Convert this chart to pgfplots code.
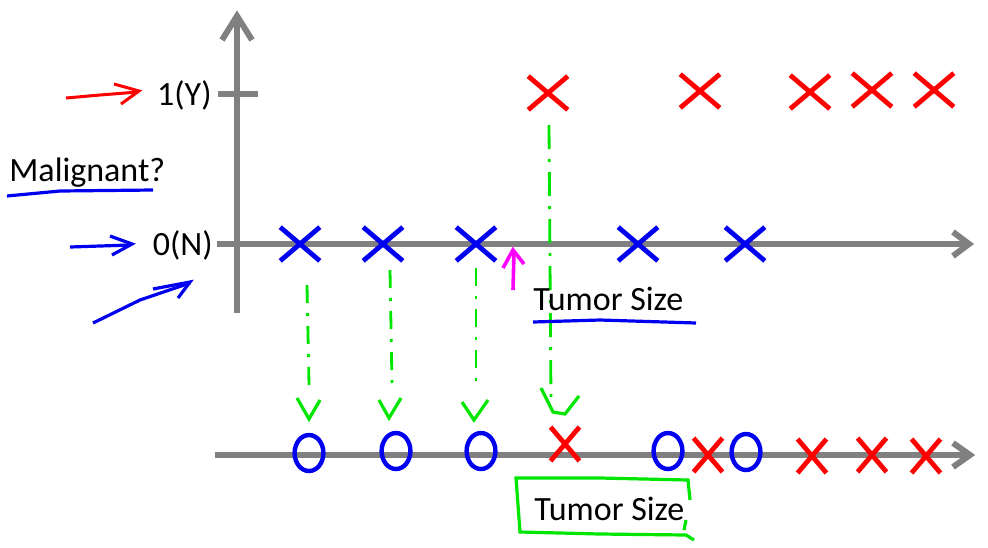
\documentclass[border=0pt]{standalone}
\usepackage{pgfplots}
\pgfplotsset{compat=1.18}
\usepackage{fontspec}
\setmainfont{Carlito}
\definecolor{axgray}{RGB}{128,128,128}
\definecolor{pblue}{RGB}{0,0,240}
\definecolor{pred}{RGB}{255,0,0}
\definecolor{pgreen}{RGB}{0,230,0}
\definecolor{pmag}{RGB}{255,0,255}
\begin{document}
\begin{tikzpicture}
\begin{axis}[scale only axis, width=494pt, height=273.5pt,
  xmin=0, xmax=988, ymin=0, ymax=547, y dir=reverse,
  hide axis, clip=false]
\addplot[draw=none, forget plot] coordinates {(0,0) (988,547)};
% ---- gray axes ----
\addplot[axgray, line width=3pt] coordinates {(237,313) (237,18)};
\addplot[axgray, line width=3pt, line join=miter] coordinates {(222,40) (237,16) (252,40)};
\addplot[axgray, line width=3pt] coordinates {(217,244) (966,244)};
\addplot[axgray, line width=3pt] coordinates {(953,232) (969,244) (953,256)};
\addplot[axgray, line width=3pt] coordinates {(218,94) (258,94)};
\addplot[axgray, line width=3pt] coordinates {(215,455) (968,455)};
\addplot[axgray, line width=3pt] coordinates {(953,443) (970,455) (953,467)};
% ---- red X at y=1 ----
\addplot[only marks, mark=x, mark size=14pt, mark options={pred, line width=2.4pt, yscale=0.85}] coordinates {(548,93) (700,91) (810,92) (872,90) (934,90)};
% ---- blue X at y=0 ----
\addplot[only marks, mark=x, mark size=14pt, mark options={pblue, line width=2.4pt, yscale=0.85}] coordinates {(300,244) (383,244) (476,244) (638,244) (745,244)};
% ---- lower axis: circles and crosses ----
\addplot[only marks, mark=o, mark size=9pt, mark options={pblue, line width=2.2pt, xscale=0.8}] coordinates {(309,453) (396,451) (481,451) (668,451) (746,452)};
\addplot[only marks, mark=x, mark size=12pt, mark options={pred, line width=2.4pt, xscale=0.85}] coordinates {(565,444) (708,455) (812,456) (872,455) (926,456)};
% ---- green dash-dot projections ----
\addplot[pgreen, line width=1.4pt, dash pattern=on 9pt off 5pt on 1.5pt off 5pt] coordinates {(307,285) (309,385)};
\addplot[pgreen, line width=1.4pt, dash pattern=on 9pt off 5pt on 1.5pt off 5pt] coordinates {(390,270) (392,385)};
\addplot[pgreen, line width=1.4pt, dash pattern=on 9pt off 5pt on 1.5pt off 5pt] coordinates {(476,268) (476,385)};
\addplot[pgreen, line width=1.4pt, dash pattern=on 12pt off 5pt on 1.5pt off 5pt] coordinates {(549,125) (551,400)};
\addplot[pgreen, line width=1.6pt] coordinates {(297,398) (309,419) (320,400)};
\addplot[pgreen, line width=1.6pt] coordinates {(379,400) (389,418) (401,398)};
\addplot[pgreen, line width=1.6pt] coordinates {(462,402) (474,420) (488,400)};
\addplot[pgreen, line width=1.6pt] coordinates {(541,388) (553,412) (565,414) (579,396)};
% ---- magenta arrow ----
\addplot[pmag, line width=1.8pt] coordinates {(513,290) (514,252)};
\addplot[pmag, line width=1.8pt] coordinates {(503,268) (513,250) (524,264)};
% ---- red arrow ----
\addplot[pred, line width=1.5pt] coordinates {(66,98) (100,95) (138,92)};
\addplot[pred, line width=1.5pt] coordinates {(114,84) (139,91) (121,104)};
% ---- blue arrows ----
\addplot[pblue, line width=1.6pt] coordinates {(70,247) (130,245)};
\addplot[pblue, line width=1.6pt] coordinates {(110,236) (132,244) (112,255)};
\addplot[pblue, line width=1.6pt] coordinates {(93,323) (140,300) (190,283)};
\addplot[pblue, line width=1.6pt] coordinates {(153,289) (190,282) (178,298)};
% ---- blue underlines ----
\addplot[pblue, line width=1.6pt] coordinates {(7,196) (60,191) (153,190)};
\addplot[pblue, line width=1.6pt] coordinates {(533,322) (600,320) (696,323)};
% ---- green box ----
\addplot[pgreen, line width=1.6pt] coordinates {(690,500) (688,480) (600,478) (516,478) (520,532) (600,534) (686,535) (694,540)};
\addplot[pgreen, line width=1.6pt] coordinates {(686,520) (684,530)};
% ---- text ----
\node[anchor=east, inner sep=0pt, font=\fontsize{17}{20}\selectfont] at (axis cs:212,95) {1(Y)};
\node[anchor=east, inner sep=0pt, font=\fontsize{17}{20}\selectfont] at (axis cs:213,245) {0(N)};
\node[anchor=west, inner sep=0pt, font=\fontsize{17}{20}\selectfont] at (axis cs:9,173) {Malignant?};
\node[anchor=west, inner sep=0pt, font=\fontsize{17}{20}\selectfont] at (axis cs:533,299) {Tumor Size};
\node[anchor=west, inner sep=0pt, font=\fontsize{17}{20}\selectfont] at (axis cs:534,509) {Tumor Size};
\end{axis}
\end{tikzpicture}
\end{document}
